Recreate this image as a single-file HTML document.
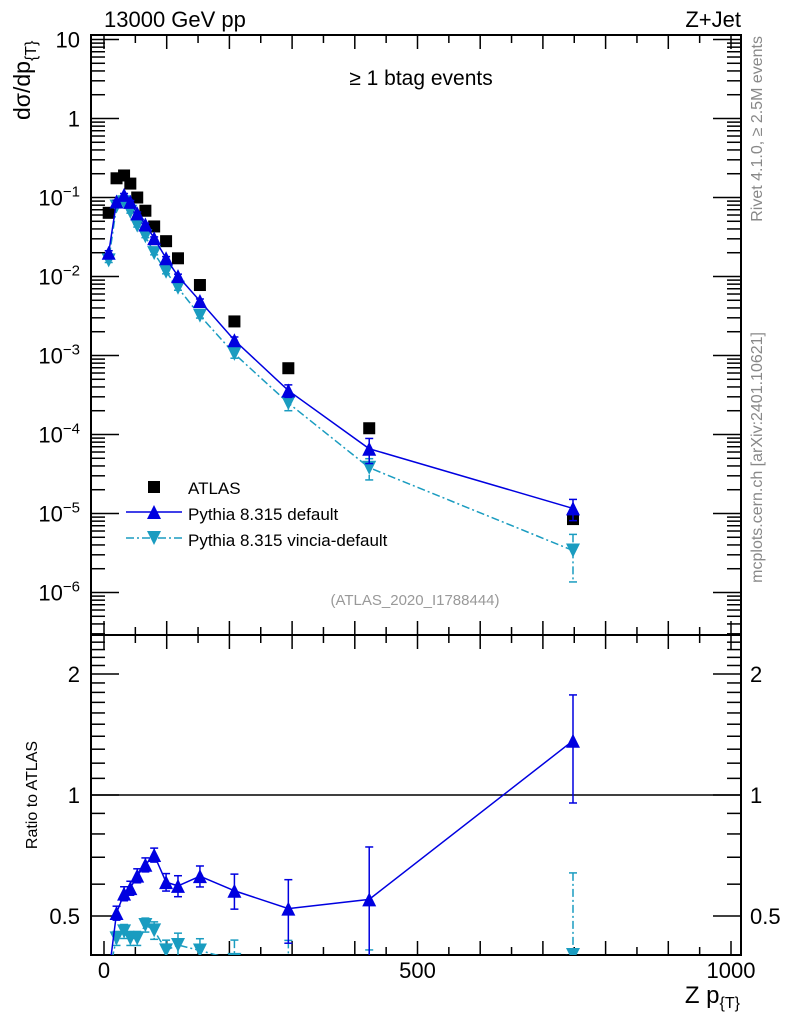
<!DOCTYPE html>
<html><head><meta charset="utf-8"><style>
html,body{margin:0;background:#fff;overflow:hidden;width:786px;height:1024px;}
svg{display:block;}
svg text{font-family:"Liberation Sans",sans-serif;}
</style></head><body>
<svg id="c" width="786" height="1024" xmlns="http://www.w3.org/2000/svg"></svg>
<script>
const xs=[7.5,20,32,42,53,66,80,99,118,153,208,294,423,748];
const atlas=[0.064,0.175,0.19,0.15,0.1,0.068,0.043,0.028,0.017,0.0078,0.0027,0.00069,0.00012,8.5e-6];
const pyDef=[0.02,0.089,0.108,0.088,0.063,0.0456,0.0305,0.017,0.0101,0.0049,0.00156,0.00036,6.6e-5,1.16e-5];
const pyDefErr=[0.06,0.04,0.04,0.04,0.04,0.04,0.04,0.05,0.06,0.06,0.1,0.18,0.35,0.3];
const pyVin=[0.016,0.077,0.087,0.066,0.044,0.0323,0.0198,0.0115,0.0072,0.0032,0.00105,0.00025,3.8e-5,3.4e-6];
const pyVinErr=[0.06,0.04,0.04,0.04,0.04,0.04,0.05,0.06,0.07,0.07,0.12,0.2,0.3,0.6];
const xTickLabels=[0,500,1000];
const yExps=[-6,-5,-4,-3,-2,-1,0,1];
const rTicks=[0.5,1,2];

const S=document.getElementById('c'),NS='http://www.w3.org/2000/svg';
function el(t,a,p){const e=document.createElementNS(NS,t);for(const k in a)e.setAttribute(k,a[k]);(p||S).appendChild(e);return e;}
const L=91,R=741,T=35,M=635,B=955;
const X=v=>104+v*0.627;
const Y=v=>118.5-79*Math.log10(v);
const RY=v=>795-121*Math.log2(v);
const clamp=(v,a,b)=>Math.min(b,Math.max(a,v));
const defs=el('defs',{});
const c1=el('clipPath',{id:'top'},defs);el('rect',{x:L,y:T,width:R-L,height:M-T},c1);
const c2=el('clipPath',{id:'bot'},defs);el('rect',{x:L,y:M,width:R-L,height:B-M},c2);
let f=el('rect',{x:L,y:T,width:R-L,height:M-T,fill:'none',stroke:'#000','stroke-width':2});

f=el('rect',{x:L,y:M,width:R-L,height:B-M,fill:'none',stroke:'#000','stroke-width':2});

for(let v=0;v<=1000;v+=50){const x=X(v),len=v%100==0?14:8;
 [[T,1],[M,-1],[M,1],[B,-1]].forEach(([y,d])=>{el('line',{x1:x,x2:x,y1:y,y2:y+d*len,stroke:'#000','stroke-width':1.5});});}
xTickLabels.forEach(v=>{const t=el('text',{x:X(v),y:978,'font-size':22,'text-anchor':'middle'});t.textContent=v;
 });
for(let e=-7;e<=1;e++){for(let m=1;m<10;m++){const v=m*Math.pow(10,e),y=Y(v);if(y<T||y>M)continue;const len=m==1?28:14;
 el('line',{x1:L,x2:L+len,y1:y,y2:y,stroke:'#000','stroke-width':1.5});el('line',{x1:R,x2:R-len,y1:y,y2:y,stroke:'#000','stroke-width':1.5});}}
yExps.forEach(e=>{const t=el('text',{x:80,y:Y(Math.pow(10,e))+8,'font-size':22,'text-anchor':'end'});
 if(e>=0)t.textContent=e==0?'1':'10';else{t.textContent='10';const ts=el('tspan',{dy:-9,'font-size':15},t);ts.textContent='\u2212'+(-e);}
 });
for(let v=0.4;v<=2.5;v+=0.1){const y=RY(v);if(y<M||y>B)continue;const maj=[0.5,1,2].some(q=>Math.abs(q-v)<1e-6);const len=maj?28:14;
 el('line',{x1:L,x2:L+len,y1:y,y2:y,stroke:'#000','stroke-width':1.5});el('line',{x1:R,x2:R-len,y1:y,y2:y,stroke:'#000','stroke-width':1.5});}
rTicks.forEach(v=>{[[80,'end'],[750,'start']].forEach(([x,a])=>{const t=el('text',{x:x,y:RY(v)+8,'font-size':22,'text-anchor':a});t.textContent=v==0.5?'0.5':v;
 });});
el('line',{x1:L,x2:R,y1:RY(1),y2:RY(1),stroke:'#000','stroke-width':1.5});
const gT=el('g',{'clip-path':'url(#top)'}),gB=el('g',{'clip-path':'url(#bot)'});
function tri(g,x,y,col,down,name){const s=7;const p=down?`${x-s},${y-s} ${x+s},${y-s} ${x},${y+s}`:`${x-s},${y+s} ${x+s},${y+s} ${x},${y-s}`;
 const e=el('polygon',{points:p,fill:col},g);}
function series(vals,errs,col,down,dash,name){
 let pts=xs.map((x,i)=>X(x)+','+clamp(Y(vals[i]),T,M)).join(' ');
 el('polyline',{points:pts,fill:'none',stroke:col,'stroke-width':1.5,'stroke-dasharray':dash},gT);
 let rp=xs.map((x,i)=>X(x)+','+clamp(RY(vals[i]/atlas[i]),M-20,B+20)).join(' ');
 el('polyline',{points:rp,fill:'none',stroke:col,'stroke-width':1.5,'stroke-dasharray':dash},gB);
 xs.forEach((x,i)=>{const px=X(x);const v=vals[i],er=errs[i];
  [[gT,Y(v*(1+er)),Y(Math.max(v*(1-er),1e-9)),Y(v),T,M],[gB,RY(v*(1+er)/atlas[i]),RY(Math.max(v*(1-er),1e-9)/atlas[i]),RY(v/atlas[i]),M,B]].forEach(([g,y1,y2,y,lo,hi])=>{
   const a=clamp(y1,lo-10,hi+10),b=clamp(y2,lo-10,hi+10);
   el('line',{x1:px,x2:px,y1:a,y2:b,stroke:col,'stroke-width':1.5,'stroke-dasharray':dash},g);
   if(y1>=lo&&y1<=hi)el('line',{x1:px-4,x2:px+4,y1:y1,y2:y1,stroke:col,'stroke-width':1.5},g);
   if(y2>=lo&&y2<=hi)el('line',{x1:px-4,x2:px+4,y1:y2,y2:y2,stroke:col,'stroke-width':1.5},g);
   if(y>lo-10&&y<hi+10)tri(g,px,y,col,down,name);});});}
xs.forEach((x,i)=>{const e=el('rect',{x:X(x)-6,y:Y(atlas[i])-6,width:12,height:12,fill:'#000'},gT);
 });
series(pyVin,pyVinErr,'#1a9cc0',true,'8 3 2 3','vincia-point');
series(pyDef,pyDefErr,'#0000e0',false,'none','pythia-default-point');
const lg=el('g',{});
el('rect',{x:148,y:481,width:12,height:12,fill:'#000'},lg);
el('line',{x1:126,x2:182,y1:512,y2:512,stroke:'#0000e0','stroke-width':1.5},lg);tri(lg,154,512,'#0000e0',false,'legend-marker');
el('line',{x1:126,x2:182,y1:538,y2:538,stroke:'#1a9cc0','stroke-width':1.5,'stroke-dasharray':'8 3 2 3'},lg);tri(lg,154,538,'#1a9cc0',true,'legend-marker');
[['ATLAS',494],['Pythia 8.315 default',520],['Pythia 8.315 vincia-default',546]].forEach(([s,y])=>{const t=el('text',{x:188,y:y,'font-size':17},lg);t.textContent=s;
 });
function txt(s,a,name){const t=el('text',a);t.innerHTML=s;return t;}
txt('13000 GeV pp',{x:104,y:27,'font-size':22},'beam-label');
txt('Z+Jet',{x:741,y:27,'font-size':22,'text-anchor':'end'},'process-label');
txt('\u2265 1 btag events',{x:421,y:85,'font-size':21,'text-anchor':'middle'},'plot-title');
txt('(ATLAS_2020_I1788444)',{x:415,y:605,'font-size':15,fill:'#999','text-anchor':'middle'},'analysis-id');
txt('d\u03C3/dp<tspan dy="6" font-size="16">{T}</tspan>',{x:0,y:0,'font-size':23,transform:'translate(30,120) rotate(-90)','text-anchor':'start'},'y-axis-title');
txt('Ratio to ATLAS',{x:0,y:0,'font-size':16,transform:'translate(37,795) rotate(-90)','text-anchor':'middle'},'ratio-axis-title');
txt('Z p<tspan dy="5" font-size="16">{T}</tspan>',{x:740,y:1003,'font-size':24,'text-anchor':'end'},'x-axis-title');
txt('Rivet 4.1.0, \u2265 2.5M events',{x:0,y:0,'font-size':16,fill:'#888',transform:'translate(762,36) rotate(-90)','text-anchor':'end'},'rivet-label');
txt('mcplots.cern.ch [arXiv:2401.10621]',{x:0,y:0,'font-size':16,fill:'#888',transform:'translate(762,332) rotate(-90)','text-anchor':'end'},'mcplots-label');
</script>
</body></html>
